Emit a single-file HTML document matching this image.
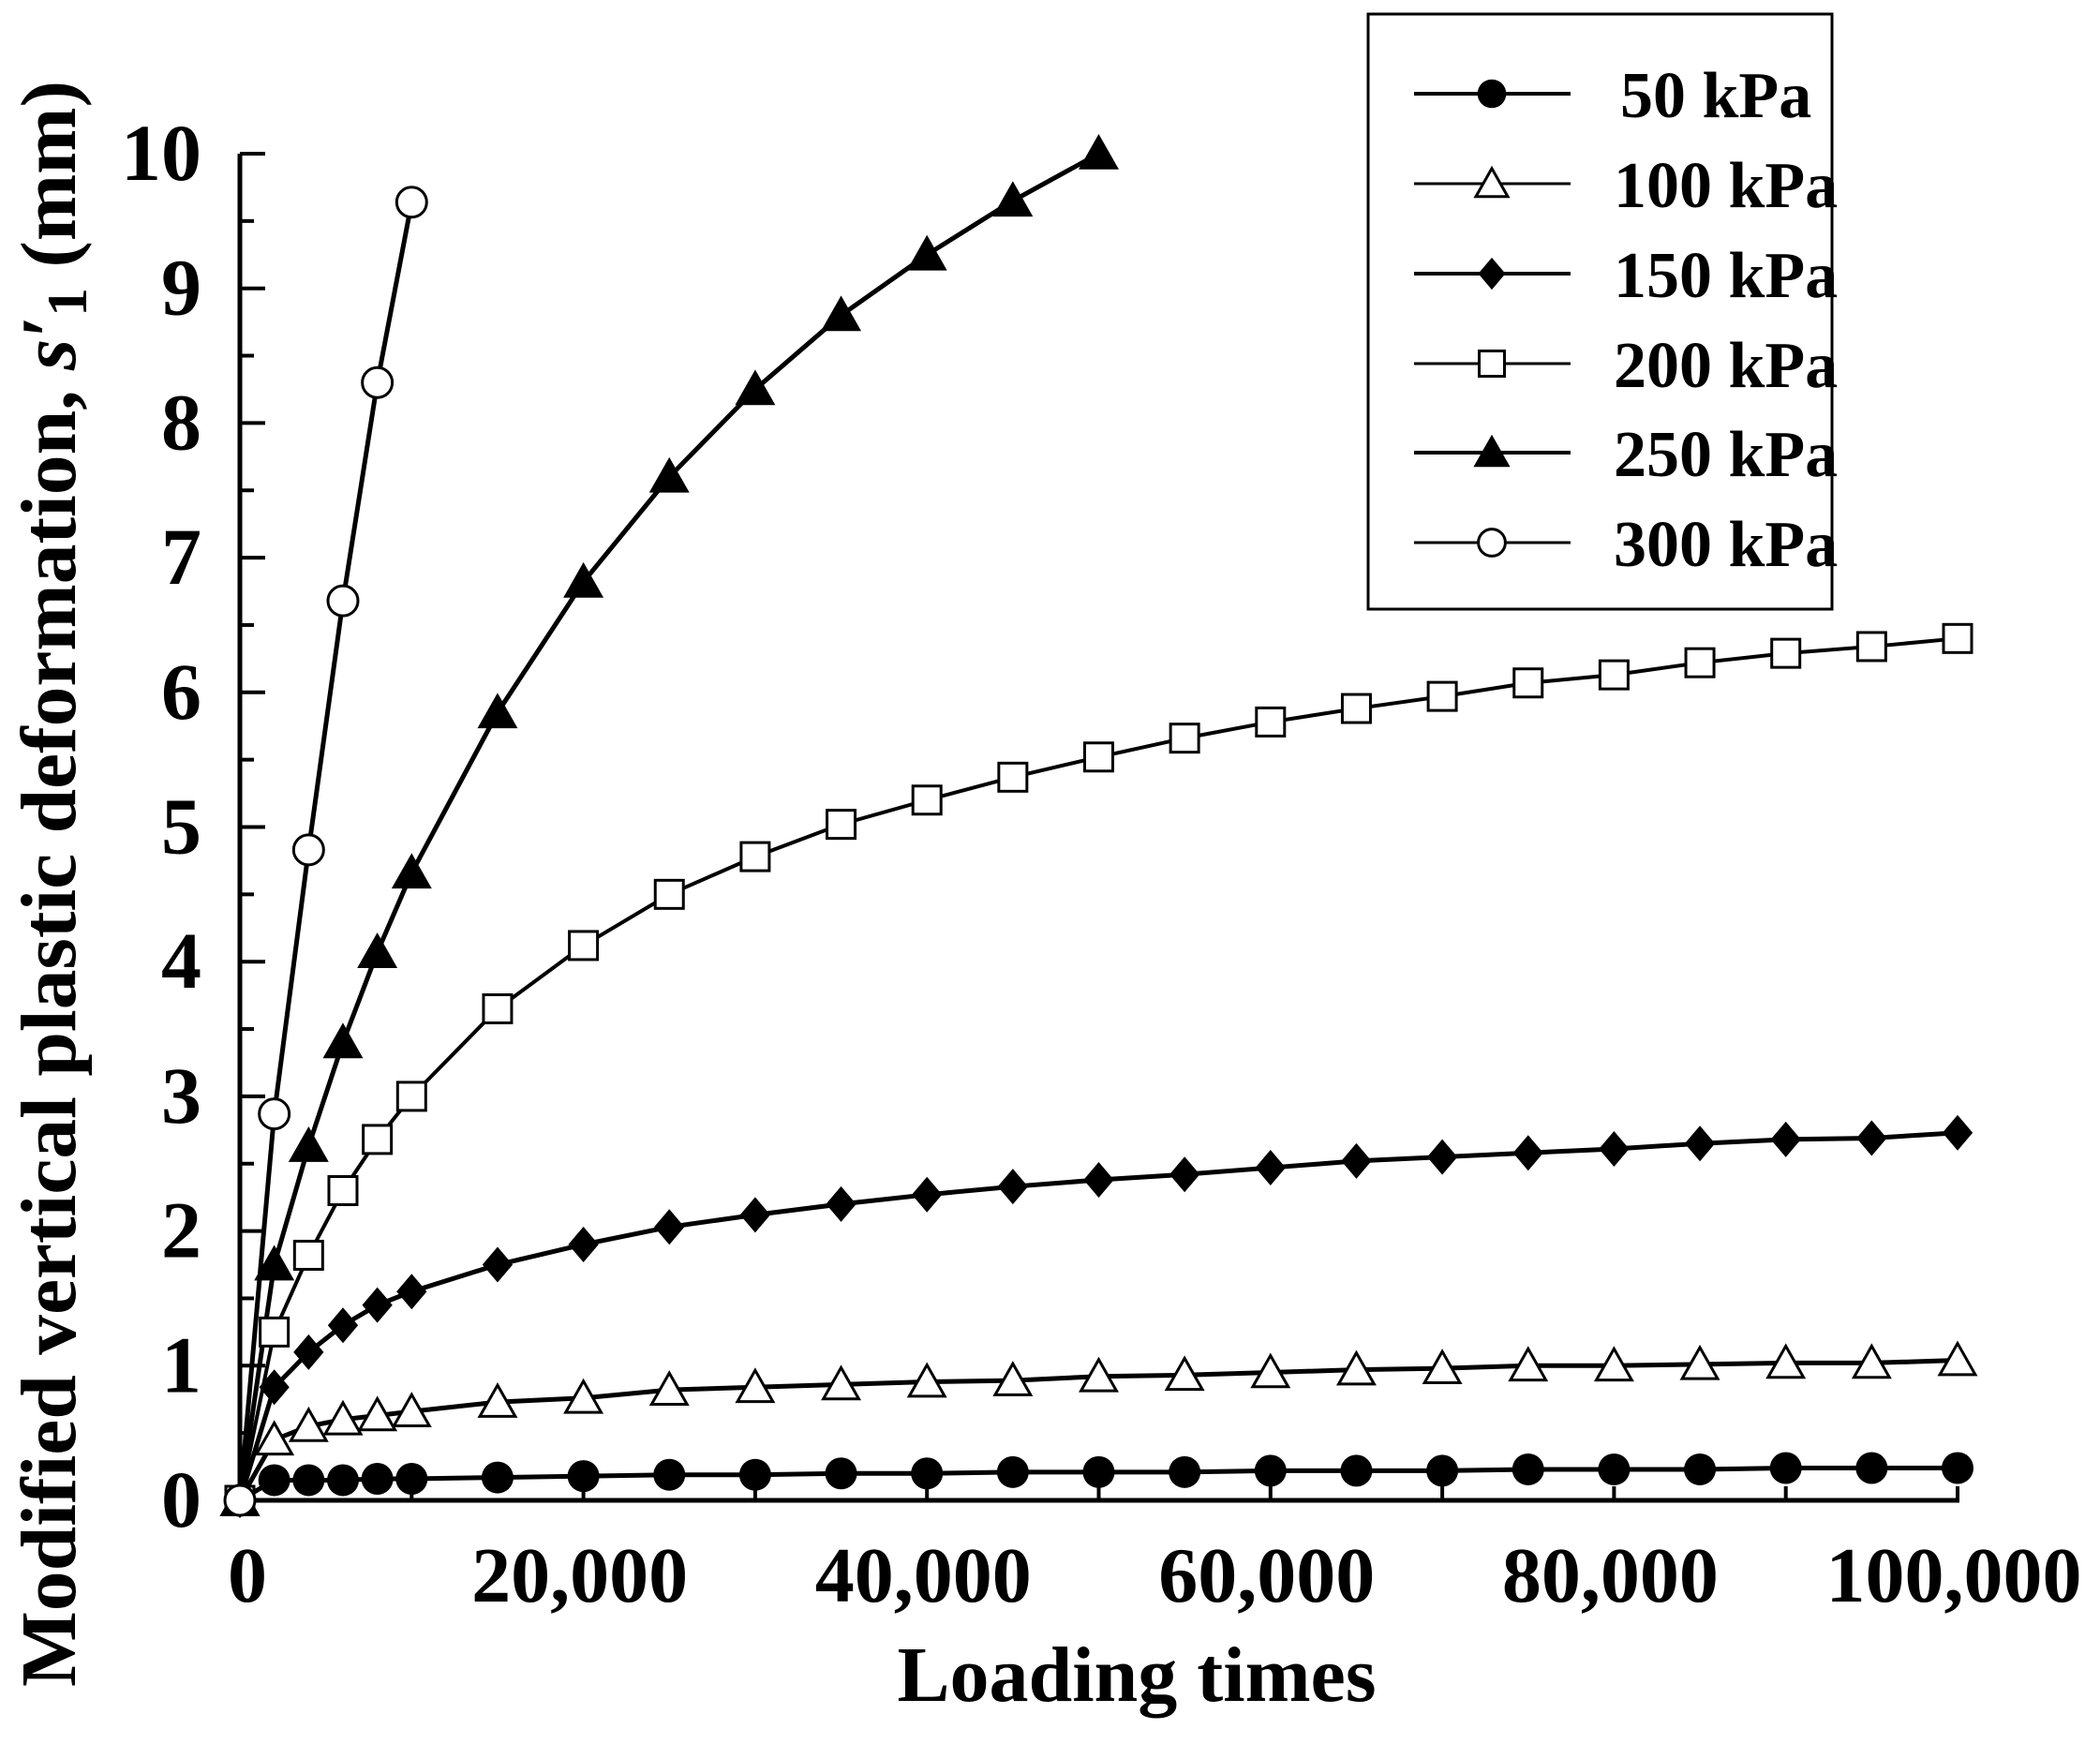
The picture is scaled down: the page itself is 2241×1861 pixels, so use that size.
<!DOCTYPE html>
<html><head><meta charset="utf-8"><style>
html,body{margin:0;padding:0;background:#fff;}
svg{display:block;font-family:"Liberation Serif",serif;font-weight:bold;}
</style></head><body>
<svg id="s" width="2241" height="1861" viewBox="0 0 2241 1861" xmlns="http://www.w3.org/2000/svg"></svg>
<script>
const s=document.getElementById('s');
const X0=256,XS=0.01833,Y0=1601,YS=143.7;
const px=x=>X0+x*XS, py=y=>Y0-y*YS;
let h='';
h+=`<line x1="${X0}" y1="164" x2="${X0}" y2="${Y0+2}" stroke="#000" stroke-width="5"/>`;
h+=`<line x1="${X0-2}" y1="${Y0}" x2="2091" y2="${Y0}" stroke="#000" stroke-width="5"/>`;
for(let i=0;i<=20;i++){const y=py(i/2);const L=i%2?15:27;h+=`<line x1="${X0}" y1="${y}" x2="${X0+L}" y2="${y}" stroke="#000" stroke-width="4"/>`;}
for(let i=1;i<=10;i++){const x=px(i*10000);h+=`<line x1="${x}" y1="${Y0}" x2="${x}" y2="${Y0-15}" stroke="#000" stroke-width="4"/>`;}
for(let i=0;i<=10;i++){h+=`<text x="215" y="${py(i)+28}" font-size="86" text-anchor="end">${i}</text>`;}
const xl=['0','20,000','40,000','60,000','80,000','100,000'];
xl.forEach((t,i)=>{h+=`<text x="${px(i*20000)+ (i==0?8:-4)}" y="1709" font-size="84" text-anchor="middle">${t}</text>`;});
h+=`<text x="1213" y="1815" font-size="84" text-anchor="middle">Loading times</text>`;
h+=`<text transform="translate(80,943) rotate(-90)" font-size="84" text-anchor="middle" textLength="1714" lengthAdjust="spacingAndGlyphs">Modified vertical plastic deformation, <tspan font-style="italic">s′</tspan><tspan font-size="60" dy="12">1</tspan><tspan dy="-12"> (mm)</tspan></text>`;
const xs=[0,2000,4000,6000,8000,10000];for(let x=15000;x<=100000;x+=5000)xs.push(x);
const D={
c:[0,.15,.15,.15,.16,.16,.17,.18,.19,.19,.2,.2,.21,.21,.21,.22,.22,.22,.23,.23,.23,.24,.24,.24],
t:[0,.45,.55,.6,.63,.66,.73,.76,.82,.84,.86,.88,.89,.92,.93,.95,.97,.98,1.0,1.0,1.01,1.02,1.02,1.04],
d:[0,.84,1.1,1.3,1.45,1.55,1.75,1.9,2.03,2.12,2.2,2.27,2.33,2.38,2.42,2.47,2.52,2.55,2.58,2.61,2.65,2.68,2.69,2.73],
q:[0,1.25,1.82,2.3,2.68,3.0,3.65,4.12,4.5,4.78,5.02,5.2,5.37,5.52,5.66,5.78,5.88,5.97,6.07,6.13,6.22,6.29,6.34,6.4],
T:[0,1.75,2.63,3.4,4.07,4.66,5.85,6.82,7.6,8.25,8.8,9.25,9.65,10.0],
o:[0,2.87,4.83,6.68,8.3,9.64]};
function mk(t,x,y,sc){sc=sc||1;
 if(t=='c')return `<circle cx="${x}" cy="${y}" r="${17*sc}" fill="#000"/>`;
 if(t=='o')return `<circle cx="${x}" cy="${y}" r="${16*sc}" fill="#fff" stroke="#000" stroke-width="3"/>`;
 if(t=='t'||t=='T'){const a=18*sc;return `<polygon points="${x},${y-a} ${x-a*1.05},${y+a*.85} ${x+a*1.05},${y+a*.85}" fill="${t=='T'?'#000':'#fff'}" stroke="#000" stroke-width="3"/>`;}
 if(t=='d'){const a=19*sc;return `<polygon points="${x},${y-a} ${x+a*.85},${y} ${x},${y+a} ${x-a*.85},${y}" fill="#000"/>`;}
 if(t=='q'){const a=15*sc;return `<rect x="${x-a}" y="${y-a}" width="${2*a}" height="${2*a}" fill="#fff" stroke="#000" stroke-width="3"/>`;}
}
const W={c:5,t:5,d:5,q:4,T:5,o:5};
for(const k of ['c','t','d','q','T','o']){const p=D[k].map((v,i)=>px(xs[i])+','+py(v)).join(' ');
 h+=`<polyline points="${p}" fill="none" stroke="#000" stroke-width="${W[k]}"/>`;}
for(const k of ['c','t','d','q','T','o']){D[k].forEach((v,i)=>{h+=mk(k,px(xs[i]),py(v));});}
h+=`<rect x="1460" y="15" width="495" height="635" fill="#fff" stroke="#000" stroke-width="3"/>`;
const lab=['50 kPa','100 kPa','150 kPa','200 kPa','250 kPa','300 kPa'];
const ks=['c','t','d','q','T','o'];const ry=[100,196,292,388,483,579];
ks.forEach((k,i)=>{const y=ry[i];h+=`<line x1="1509" y1="${y}" x2="1676" y2="${y}" stroke="#000" stroke-width="${k=='c'||k=='d'||k=='T'?4:3}"/>`;h+=mk(k,1592,y,0.9);
 h+=`<text x="${i==0?1729:1722}" y="${y+25}" font-size="70">${lab[i]}</text>`;});
s.innerHTML=h;
</script>
</body></html>
